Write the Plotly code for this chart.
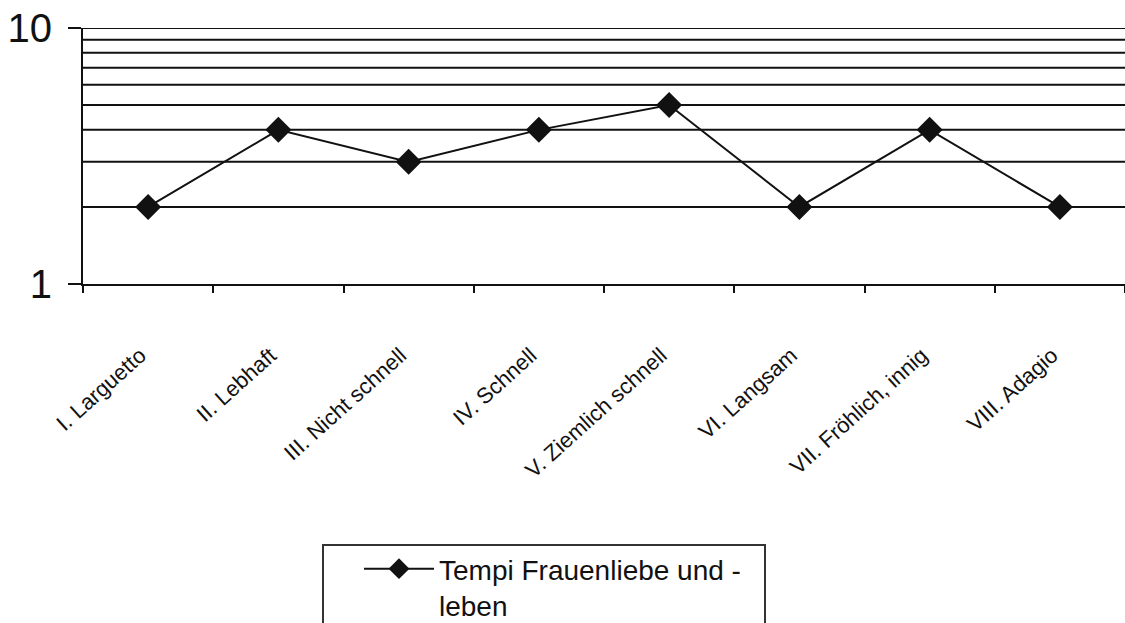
import plotly.graph_objects as go

categories = ["I. Larguetto", "II. Lebhaft", "III. Nicht schnell", "IV. Schnell",
              "V. Ziemlich schnell", "VI. Langsam", "VII. Fröhlich, innig", "VIII. Adagio"]
values = [2, 4, 3, 4, 5, 2, 4, 2]
series_name = "Tempi Frauenliebe und -<br>leben"
ytick_vals = [1, 10]
ytick_text = ["1", "10"]
grid_vals = [2, 3, 4, 5, 6, 7, 8, 9, 10]

W, H = 1125, 623
L, R, T, B = 83, 0, 28, 339

fig = go.Figure()
fig.add_trace(go.Scatter(
    x=categories, y=values, name=series_name, mode="lines+markers",
    line=dict(color="#111111", width=2),
    marker=dict(symbol="diamond", size=20, color="#111111"),
))

# horizontal gridlines at each integer value
for g in grid_vals:
    fig.add_shape(type="line", xref="paper", yref="y", x0=0, x1=1, y0=g, y1=g,
                  line=dict(color="#111111", width=2), layer="below")

pw = W - L - R
ph = H - T - B
def px(pix):
    return (pix - L) / pw
def py(pix):
    return (H - B - pix) / ph

# legend box
fig.add_shape(type="rect", xref="paper", yref="paper",
              x0=px(323), x1=px(765), y0=py(640), y1=py(545),
              line=dict(color="#333333", width=2), fillcolor="rgba(0,0,0,0)")

fig.update_layout(
    width=W, height=H,
    margin=dict(l=L, r=R, t=T, b=B, pad=0, autoexpand=False),
    plot_bgcolor="white", paper_bgcolor="white",
    font=dict(family="Liberation Sans, Arial, sans-serif", color="#111111"),
    showlegend=True,
    legend=dict(x=px(359), y=py(544), xanchor="left", yanchor="top",
                font=dict(size=28, color="#111111"), bgcolor="rgba(0,0,0,0)",
                borderwidth=0, itemwidth=70, valign="top"),
    xaxis=dict(type="category", showgrid=False, showline=True, linecolor="#111111",
               linewidth=2, ticks="outside", tickson="boundaries", ticklen=7,
               tickwidth=2, tickcolor="#111111", tickangle=-42,
               ticklabelstandoff=48, ticklabelshift=-8,
               tickfont=dict(size=22, color="#111111"), range=[-0.5, 7.5]),
    yaxis=dict(type="log", range=[0, 1], showgrid=False, showline=True,
               linecolor="#111111", linewidth=2, ticks="outside", ticklen=13,
               tickwidth=2, tickcolor="#111111", tickvals=ytick_vals,
               ticktext=ytick_text, ticklabelstandoff=8,
               tickfont=dict(size=40, color="#111111"), zeroline=False),
)

fig.write_html("out.html")
